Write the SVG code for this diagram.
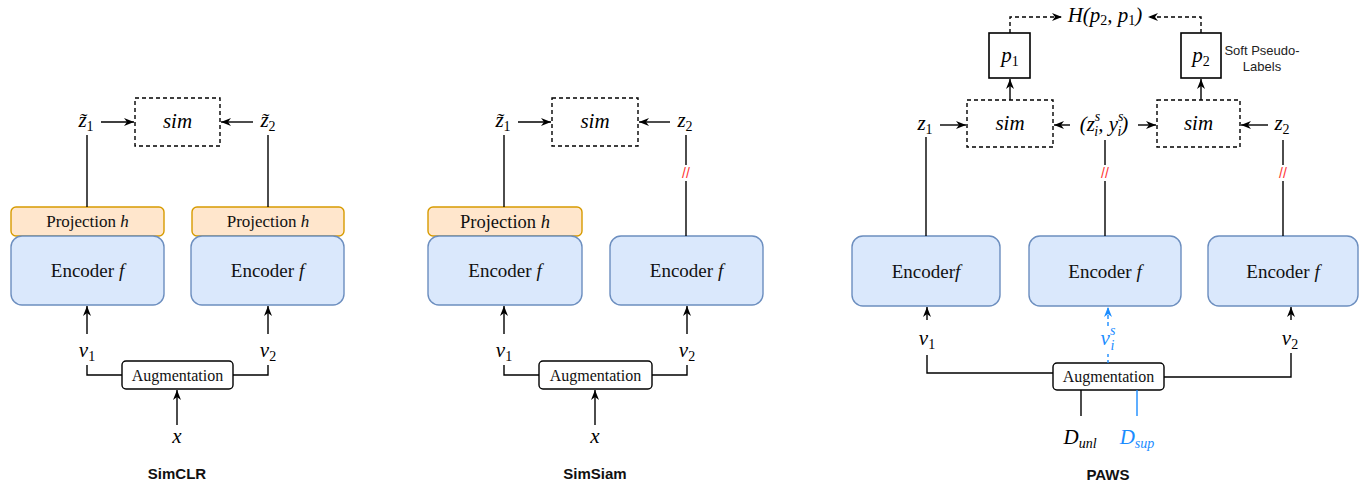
<svg xmlns="http://www.w3.org/2000/svg" width="1370" height="483" viewBox="0 0 1370 483">
<style>
.ln{fill:none;stroke:#000;stroke-width:1.4}
.dsh{fill:none;stroke:#000;stroke-width:1.4;stroke-dasharray:4 3}
.simbox{fill:#fff;stroke:#000;stroke-width:1.4;stroke-dasharray:4 3}
.proj{fill:#ffe6cc;stroke:#d79b00;stroke-width:1.4}
.enc{fill:#dae8fc;stroke:#6c8ebf;stroke-width:1.4}
.aug{fill:#fff;stroke:#000;stroke-width:1.4}
.pbox{fill:#fff;stroke:#000;stroke-width:1.6}
.m{font-family:"Liberation Serif","DejaVu Serif",serif;font-style:italic;font-size:21px;fill:#000}
.sub{font-style:normal;font-size:14px}
.sx{font-size:14px}
.t{font-family:"Liberation Serif","DejaVu Serif",serif;fill:#111}
.ttl{font-family:"Liberation Sans",Arial,sans-serif;font-weight:bold;font-size:15px;fill:#111}
.sm{font-family:"Liberation Sans",Arial,sans-serif;font-size:13px;fill:#222}
.cut{font-family:"Liberation Sans",Arial,sans-serif;font-size:14px;fill:#ff3333}
.blue{fill:#1a8cff}
</style>
<defs>
<marker id="ah" viewBox="0 0 10 8" refX="10" refY="4" markerWidth="10" markerHeight="8" markerUnits="userSpaceOnUse" orient="auto"><path d="M0,0 L10,4 L0,8 L3,4 Z" fill="#000"/></marker>
<marker id="ahb" viewBox="0 0 10 8" refX="10" refY="4" markerWidth="10" markerHeight="8" markerUnits="userSpaceOnUse" orient="auto"><path d="M0,0 L10,4 L0,8 L3,4 Z" fill="#1a8cff"/></marker>
</defs>
<rect width="1370" height="483" fill="#fff"/>

<!-- ================= SimCLR ================= -->
<g id="simclr-sim"><rect class="simbox" x="135" y="98" width="85" height="48"/><text class="m" x="177.5" y="128" text-anchor="middle">sim</text></g>
<g id="simclr-z1"><text class="m" x="86" y="127" text-anchor="middle">z&#x303;<tspan class="sub" dy="4">1</tspan></text></g>
<g id="simclr-z2"><text class="m" x="268" y="127" text-anchor="middle">z&#x303;<tspan class="sub" dy="4">2</tspan></text></g>
<g id="simclr-proj1"><rect class="proj" x="11" y="207" width="153" height="29" rx="5"/><text class="t" x="87.5" y="227" text-anchor="middle" font-size="17">Projection <tspan font-style="italic">h</tspan></text></g>
<g id="simclr-proj2"><rect class="proj" x="192" y="207" width="152" height="29" rx="5"/><text class="t" x="268" y="227" text-anchor="middle" font-size="17">Projection <tspan font-style="italic">h</tspan></text></g>
<g id="simclr-enc1"><rect class="enc" x="11" y="236" width="153" height="69" rx="11"/><text class="t" x="87.5" y="277" text-anchor="middle" font-size="19">Encoder <tspan font-style="italic">f</tspan></text></g>
<g id="simclr-enc2"><rect class="enc" x="191" y="236" width="153" height="69" rx="11"/><text class="t" x="267.5" y="277" text-anchor="middle" font-size="19">Encoder <tspan font-style="italic">f</tspan></text></g>
<g id="simclr-v1"><text class="m" x="87" y="357" text-anchor="middle">v<tspan class="sub" dy="4">1</tspan></text></g>
<g id="simclr-v2"><text class="m" x="268" y="357" text-anchor="middle">v<tspan class="sub" dy="4">2</tspan></text></g>
<g id="simclr-aug"><rect class="aug" x="122" y="361" width="111" height="28" rx="4"/><text class="t" x="177.5" y="380.5" text-anchor="middle" font-size="16">Augmentation</text></g>
<g id="simclr-x"><text class="m" x="177" y="443" text-anchor="middle">x</text></g>
<text class="ttl" x="177" y="479" text-anchor="middle">SimCLR</text>

<!-- ================= SimSiam ================= -->
<g id="simsiam-sim"><rect class="simbox" x="552" y="98" width="86" height="48"/><text class="m" x="595" y="128" text-anchor="middle">sim</text></g>
<g id="simsiam-z1"><text class="m" x="503" y="127" text-anchor="middle">z&#x303;<tspan class="sub" dy="4">1</tspan></text></g>
<g id="simsiam-z2"><text class="m" x="685" y="127" text-anchor="middle">z<tspan class="sub" dy="4">2</tspan></text></g>
<g id="simsiam-proj1"><rect class="proj" x="428" y="207" width="154" height="29" rx="5"/><text class="t" x="505" y="228" text-anchor="middle" font-size="18.5">Projection <tspan font-style="italic">h</tspan></text></g>
<g id="simsiam-enc1"><rect class="enc" x="428" y="236" width="154" height="69" rx="11"/><text class="t" x="505" y="277" text-anchor="middle" font-size="19">Encoder <tspan font-style="italic">f</tspan></text></g>
<g id="simsiam-enc2"><rect class="enc" x="610" y="236" width="153" height="69" rx="11"/><text class="t" x="686.5" y="277" text-anchor="middle" font-size="19">Encoder <tspan font-style="italic">f</tspan></text></g>
<g id="simsiam-v1"><text class="m" x="504" y="357" text-anchor="middle">v<tspan class="sub" dy="4">1</tspan></text></g>
<g id="simsiam-v2"><text class="m" x="687" y="357" text-anchor="middle">v<tspan class="sub" dy="4">2</tspan></text></g>
<g id="simsiam-aug"><rect class="aug" x="539" y="361" width="113" height="28" rx="4"/><text class="t" x="595.5" y="380.5" text-anchor="middle" font-size="16">Augmentation</text></g>
<g id="simsiam-x"><text class="m" x="595" y="443" text-anchor="middle">x</text></g>
<text class="ttl" x="595" y="479" text-anchor="middle">SimSiam</text>

<!-- ================= PAWS ================= -->
<g id="paws-H"><text class="m" x="1105" y="22" text-anchor="middle" font-size="15">H(p<tspan class="sub" font-size="10" dy="3">2</tspan><tspan dy="-3">, p</tspan><tspan class="sub" font-size="10" dy="3">1</tspan><tspan dy="-3">)</tspan></text></g>
<g id="paws-p1"><rect class="pbox" x="989" y="33" width="41" height="45"/><text class="m" x="1010" y="62" text-anchor="middle">p<tspan class="sub" dy="4">1</tspan></text></g>
<g id="paws-p2"><rect class="pbox" x="1181" y="33" width="40" height="45"/><text class="m" x="1201" y="62" text-anchor="middle">p<tspan class="sub" dy="4">2</tspan></text></g>
<g id="paws-label"><text class="sm" x="1262" y="55" text-anchor="middle">Soft Pseudo-</text><text class="sm" x="1262" y="71" text-anchor="middle">Labels</text></g>
<g id="paws-sim1"><rect class="simbox" x="967" y="100" width="86" height="47"/><text class="m" x="1010" y="130" text-anchor="middle">sim</text></g>
<g id="paws-sim2"><rect class="simbox" x="1157" y="100" width="83" height="47"/><text class="m" x="1198.5" y="130" text-anchor="middle">sim</text></g>
<g id="paws-z1"><text class="m" x="925" y="130" text-anchor="middle">z<tspan class="sub" dy="4">1</tspan></text></g>
<g id="paws-z2"><text class="m" x="1282" y="130" text-anchor="middle">z<tspan class="sub" dy="4">2</tspan></text></g>
<g id="paws-zy"><text class="m" x="1104" y="131" text-anchor="middle" font-size="24">(z<tspan class="sx" font-size="15" dy="-10">s</tspan><tspan class="sx" font-size="15" dx="-6" dy="15">i</tspan><tspan dy="-5">, y</tspan><tspan class="sx" font-size="15" dy="-10">s</tspan><tspan class="sx" font-size="15" dx="-6" dy="15">i</tspan><tspan dy="-5">)</tspan></text></g>
<g id="paws-enc1"><rect class="enc" x="852" y="236" width="148" height="70" rx="11"/><text class="t" x="926" y="278" text-anchor="middle" font-size="19">Encoder<tspan font-style="italic">f</tspan></text></g>
<g id="paws-enc2"><rect class="enc" x="1029" y="236" width="152" height="70" rx="11"/><text class="t" x="1105" y="278" text-anchor="middle" font-size="19">Encoder <tspan font-style="italic">f</tspan></text></g>
<g id="paws-enc3"><rect class="enc" x="1208" y="236" width="150" height="70" rx="11"/><text class="t" x="1283" y="278" text-anchor="middle" font-size="19">Encoder <tspan font-style="italic">f</tspan></text></g>
<g id="paws-v1"><text class="m" x="927" y="345" text-anchor="middle">v<tspan class="sub" dy="4">1</tspan></text></g>
<g id="paws-v2"><text class="m" x="1290" y="345" text-anchor="middle">v<tspan class="sub" dy="4">2</tspan></text></g>
<g id="paws-vis"><text class="m blue" x="1108" y="345" text-anchor="middle">v<tspan class="sx" dy="-10">s</tspan><tspan class="sx" dx="-5" dy="15">i</tspan></text></g>
<g id="paws-aug"><rect class="aug" x="1053" y="363" width="111" height="27" rx="4"/><text class="t" x="1108.5" y="382" text-anchor="middle" font-size="16">Augmentation</text></g>
<g id="paws-dunl"><text class="m" x="1080" y="444" text-anchor="middle" font-size="23">D<tspan font-size="14" dy="4">unl</tspan></text></g>
<g id="paws-dsup"><text class="m blue" x="1137" y="444" text-anchor="middle" font-size="23">D<tspan font-size="14" dy="4">sup</tspan></text></g>
<text class="ttl" x="1108" y="480" text-anchor="middle">PAWS</text>

<!-- ================= connectors ================= -->
<g id="connectors">
<!-- SimCLR -->
<line class="ln" x1="101" y1="122" x2="134" y2="122" marker-end="url(#ah)"/>
<line class="ln" x1="253" y1="122" x2="221" y2="122" marker-end="url(#ah)"/>
<line class="ln" x1="87" y1="135" x2="87" y2="207"/>
<line class="ln" x1="268" y1="135" x2="268" y2="207"/>
<line class="ln" x1="87" y1="334" x2="87" y2="306" marker-end="url(#ah)"/>
<line class="ln" x1="268" y1="334" x2="268" y2="306" marker-end="url(#ah)"/>
<polyline class="ln" points="87,365 87,375 122,375"/>
<polyline class="ln" points="233,375 268,375 268,365"/>
<line class="ln" x1="177" y1="425" x2="177" y2="390" marker-end="url(#ah)"/>
<!-- SimSiam -->
<line class="ln" x1="518" y1="122" x2="551" y2="122" marker-end="url(#ah)"/>
<line class="ln" x1="670" y1="122" x2="639" y2="122" marker-end="url(#ah)"/>
<line class="ln" x1="504" y1="135" x2="504" y2="207"/>
<line class="ln" x1="686" y1="135" x2="686" y2="165"/>
<text class="cut" x="686" y="178" text-anchor="middle">//</text>
<line class="ln" x1="686" y1="181" x2="686" y2="236"/>
<line class="ln" x1="504" y1="334" x2="504" y2="306" marker-end="url(#ah)"/>
<line class="ln" x1="687" y1="334" x2="687" y2="306" marker-end="url(#ah)"/>
<polyline class="ln" points="504,365 504,375 539,375"/>
<polyline class="ln" points="652,375 687,375 687,365"/>
<line class="ln" x1="595" y1="425" x2="595" y2="390" marker-end="url(#ah)"/>
<!-- PAWS -->
<polyline class="dsh" points="1010,33 1010,17 1062,17" marker-end="url(#ah)"/>
<polyline class="dsh" points="1201,33 1201,17 1148,17" marker-end="url(#ah)"/>
<line class="ln" x1="1010" y1="100" x2="1010" y2="79" marker-end="url(#ah)"/>
<line class="ln" x1="1201" y1="100" x2="1201" y2="79" marker-end="url(#ah)"/>
<line class="ln" x1="940" y1="125" x2="966" y2="125" marker-end="url(#ah)"/>
<line class="ln" x1="1070" y1="125" x2="1054" y2="125" marker-end="url(#ah)"/>
<line class="ln" x1="1138" y1="125" x2="1156" y2="125" marker-end="url(#ah)"/>
<line class="ln" x1="1268" y1="125" x2="1241" y2="125" marker-end="url(#ah)"/>
<line class="ln" x1="926" y1="137" x2="926" y2="236"/>
<line class="ln" x1="1105" y1="140" x2="1105" y2="165"/>
<text class="cut" x="1105" y="178" text-anchor="middle">//</text>
<line class="ln" x1="1105" y1="181" x2="1105" y2="236"/>
<line class="ln" x1="1283" y1="140" x2="1283" y2="165"/>
<text class="cut" x="1283" y="178" text-anchor="middle">//</text>
<line class="ln" x1="1283" y1="181" x2="1283" y2="236"/>
<line class="ln" x1="927" y1="320" x2="927" y2="307" marker-end="url(#ah)"/>
<line class="ln" x1="1291" y1="320" x2="1291" y2="307" marker-end="url(#ah)"/>
<polyline class="ln" points="927,355 927,373 1053,373"/>
<polyline class="ln" points="1164,377 1291,377 1291,353"/>
<line x1="1108" y1="363" x2="1108" y2="352" stroke="#1a8cff" stroke-width="1.4" stroke-dasharray="3 3"/>
<line x1="1108" y1="326" x2="1108" y2="307" stroke="#1a8cff" stroke-width="1.4" stroke-dasharray="4 3" marker-end="url(#ahb)"/>
<line class="ln" x1="1081" y1="390" x2="1081" y2="416"/>
<line x1="1137" y1="390" x2="1137" y2="416" stroke="#1a8cff" stroke-width="1.4"/>
</g>
</svg>
